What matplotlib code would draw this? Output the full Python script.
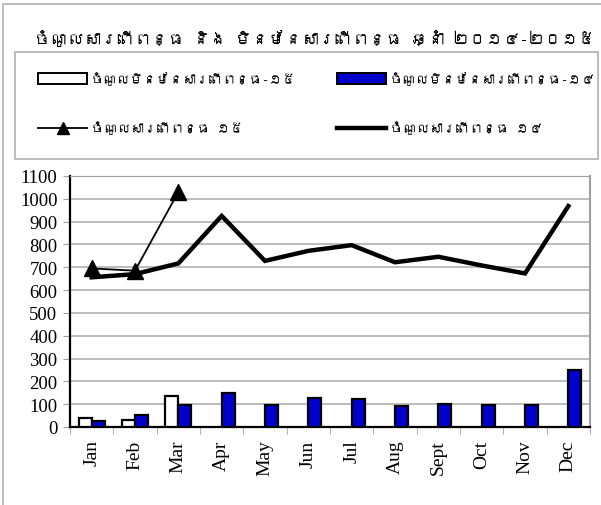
import matplotlib
matplotlib.use("Agg")
import matplotlib.pyplot as plt
from matplotlib import font_manager
from matplotlib.ft2font import FT2Font
from matplotlib.patches import Rectangle
from matplotlib.lines import Line2D
import numpy as np

months = ['Jan', 'Feb', 'Mar', 'Apr', 'May', 'Jun', 'Jul', 'Aug', 'Sept', 'Oct', 'Nov', 'Dec']
tax_14 = [656, 670, 717, 925, 728, 772, 797, 722, 746, 708, 673, 968]
tax_15 = [695, 685, 1030]
nontax_15 = [39, 29, 136]
nontax_14 = [25, 51, 95, 150, 95, 128, 121, 92, 102, 95, 98, 248]

title = 'ចំណូលសារពើពន្ធ និង មិនមែនសារពើពន្ធ ឆ្នាំ ២០១៤-២០១៥'
lab_nt15 = 'ចំណូលមិនមែនសារពើពន្ធ-១៥'
lab_nt14 = 'ចំណូលមិនមែនសារពើពន្ធ-១៤'
lab_t15 = 'ចំណូលសារពើពន្ធ ១៥'
lab_t14 = 'ចំណូលសារពើពន្ធ ១៤'


# look for any installed font that has Khmer glyphs
def khmer_font():
    seen = set()
    for f in font_manager.fontManager.ttflist:
        if f.fname in seen:
            continue
        seen.add(f.fname)
        try:
            cm = FT2Font(f.fname).get_charmap()
        except Exception:
            continue
        if 0x1780 in cm and 0x17D2 in cm:
            return f.name
    return None


kf = khmer_font()
kfam = [kf, 'DejaVu Sans'] if kf else ['DejaVu Sans']

fig = plt.figure(figsize=(6.01, 5.06), dpi=100)
rend = fig.canvas.get_renderer()


# khmer is drawn unshaped (wider than in the original), so shrink to the original width
def fit(t, width_px, maxsize):
    t.set_fontsize(maxsize)
    wpx = t.get_window_extent(rend).width
    if wpx > width_px:
        t.set_fontsize(maxsize * width_px / wpx)
    return t


ax = fig.add_axes([70 / 601, 1 - 428 / 506, 520 / 601, 251 / 506])

x = np.arange(len(months))
w = 0.3
ax.bar(x[:len(nontax_15)] - w / 2, nontax_15, w, color='white', edgecolor='black', lw=1.6, zorder=3)
ax.bar(x + w / 2, nontax_14, w, color='#0000cc', edgecolor='black', lw=1.6, zorder=3)
ax.plot(x, tax_14, color='black', lw=3.2, zorder=4, solid_joinstyle='miter')
ax.plot(x[:len(tax_15)], tax_15, color='black', lw=1.3, marker='^', ms=12, zorder=5)

ax.set_xlim(-0.5, len(months) - 0.5)
ax.set_ylim(0, 1100)
ax.set_yticks(range(0, 1101, 100))
ax.grid(axis='y', color='#b0b0b0', lw=1.2, zorder=0)
ax.set_xticks(x)
ax.set_xticklabels(months, rotation=90, fontfamily='Liberation Serif', fontsize=14)
ax.set_xticks(np.arange(-0.5, len(months)), minor=True)
ax.tick_params(axis='x', which='major', length=0, pad=9)
ax.tick_params(axis='x', which='minor', length=5, color='#a0a0a0', direction='out')
ax.tick_params(axis='y', length=5, color='#a0a0a0', labelsize=13.5, pad=4)
for t in ax.get_yticklabels():
    t.set_fontfamily('Liberation Serif')
ax.spines['left'].set_linewidth(1.6)
ax.spines['bottom'].set_linewidth(1.6)
ax.spines['top'].set_color('#a0a0a0')
ax.spines['right'].set_color('#a0a0a0')
ax.spines['right'].set_linewidth(1.5)

# outer frame and legend box
fig.patches.append(Rectangle((3 / 601, -0.1), 1.1, 1 - 5 / 506 + 0.1, transform=fig.transFigure,
                             fill=False, ec='#b0b0b0', lw=1.2))
fig.patches.append(Rectangle((15 / 601, 1 - 160 / 506), 583 / 601, 107 / 506, transform=fig.transFigure,
                             fill=False, ec='#b0b0b0', lw=1.2))

tt = fig.text(315 / 601, 1 - 38 / 506, title, ha='center', va='center',
              fontweight='bold', family=kfam)
fit(tt, 560, 17)

# legend labels: fit the longest one into ~205 px
probe = fig.text(0, 0, lab_nt15, family=kfam)
fit(probe, 205, 12)
lsize = probe.get_fontsize()
probe.remove()

h_nt15 = Rectangle((0, 0), 1, 1, fc='white', ec='black', lw=1.4)
h_nt14 = Rectangle((0, 0), 1, 1, fc='#0000cc', ec='black', lw=1.4)
h_t15 = Line2D([], [], color='black', lw=1.3, marker='^', ms=8)
h_t14 = Line2D([], [], color='black', lw=3.2)

hl = 49 / (lsize * 100 / 72)
for hs, ls, x0 in [([h_nt15, h_t15], [lab_nt15, lab_t15], 38),
                   ([h_nt14, h_t14], [lab_nt14, lab_t14], 337)]:
    fig.legend(hs, ls, loc='center left', bbox_to_anchor=(x0 / 601, 1 - 104 / 506),
               frameon=False, borderaxespad=0, borderpad=0, handlelength=hl,
               handleheight=12 / (lsize * 100 / 72),
               handletextpad=4 / (lsize * 100 / 72),
               labelspacing=36 / (lsize * 100 / 72), numpoints=1,
               prop={'family': kfam, 'size': lsize})

fig.savefig('out.png', dpi=100)
